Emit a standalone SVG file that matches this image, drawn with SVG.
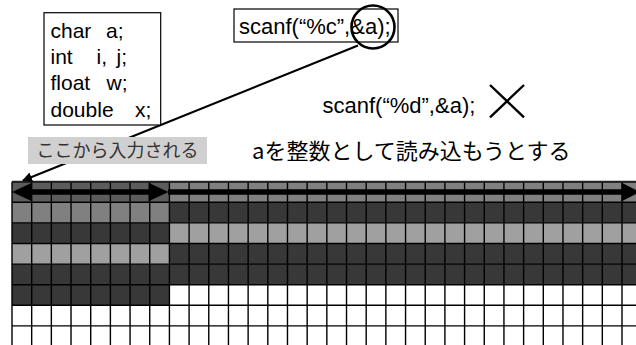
<svg xmlns="http://www.w3.org/2000/svg" width="636" height="345" viewBox="0 0 636 345">
<defs>
<style>
.t{font-family:"Liberation Sans",Arial,"Noto Sans CJK JP",sans-serif;fill:#000;}
.j{font-family:"Noto Sans CJK JP","Liberation Sans",sans-serif;}
.box{fill:#fff;stroke:#000;stroke-width:1.2;}
.dk{fill:#383838;}
.md{fill:#808080;}
.lt{fill:#a0a0a0;}
.tp{fill:#5c5c5c;}
.gl{stroke:#000;stroke-width:1.4;}
</style>
<marker id="ah" viewBox="0 0 10 10" refX="9" refY="5" markerWidth="5" markerHeight="5" orient="auto" markerUnits="strokeWidth">
<path d="M0,0 L10,5 L0,10 z" fill="#000"/>
</marker>
</defs>
<rect width="636" height="345" fill="#fff"/>

<g id="memory-grid">
<rect class="tp" x="12" y="181.7" width="157.4" height="20.6"/>
<rect class="md" x="169.4" y="181.7" width="470" height="20.6"/>
<rect class="md" x="12" y="202.3" width="157.4" height="20.6"/>
<rect class="dk" x="169.4" y="202.3" width="470" height="20.6"/>
<rect class="dk" x="12" y="222.9" width="157.4" height="20.6"/>
<rect class="lt" x="169.4" y="222.9" width="470" height="20.6"/>
<rect class="lt" x="12" y="243.5" width="157.4" height="20.6"/>
<rect class="dk" x="169.4" y="243.5" width="470" height="20.6"/>
<rect class="dk" x="12" y="264.1" width="627.4" height="20.6"/>
<rect class="dk" x="12" y="284.7" width="157.4" height="20.6"/>
<g class="gl">
<path d="M12,181.7H636M12,202.3H636M12,222.9H636M12,243.5H636M12,264.1H636M12,284.7H636M12,305.3H636M12,325.9H636" fill="none"/>
<path d="M12,181.7V345M31.68,181.7V345M51.35,181.7V345M71.03,181.7V345M90.71,181.7V345M110.39,181.7V345M130.06,181.7V345M149.74,181.7V345M169.42,181.7V345M189.1,181.7V345M208.77,181.7V345M228.45,181.7V345M248.13,181.7V345M267.81,181.7V345M287.48,181.7V345M307.16,181.7V345M326.84,181.7V345M346.52,181.7V345M366.19,181.7V345M385.87,181.7V345M405.55,181.7V345M425.23,181.7V345M444.9,181.7V345M464.58,181.7V345M484.26,181.7V345M503.94,181.7V345M523.61,181.7V345M543.29,181.7V345M562.97,181.7V345M582.65,181.7V345M602.32,181.7V345M622,181.7V345" fill="none"/>
</g>
<path d="M12,181.7H636" stroke="#222" stroke-width="2"/>
</g>

<g id="range-arrows">
<path d="M30,192H151" stroke="#000" stroke-width="5.5"/>
<polygon points="12,192 32,182.7 32,201.3" fill="#000"/>
<polygon points="168.5,192 148.5,182.7 148.5,201.3" fill="#000"/>
<path d="M168,192H624" stroke="#000" stroke-width="5.5"/>
<polygon points="640,192 621.7,182.7 621.7,201.3" fill="#000"/>
</g>

<g id="connectors">
<line x1="358" y1="45.5" x2="23" y2="180.5" stroke="#000" stroke-width="2" marker-end="url(#ah)"/>
</g>

<g id="declarations">
<rect class="box" x="44" y="12.7" width="116.7" height="112.3"/>
<text class="t" font-size="21" xml:space="preserve"><tspan x="50.5" y="37.5">char</tspan><tspan x="106" y="37.5">a;</tspan><tspan x="50.5" y="64">int</tspan><tspan x="96.5" y="64">i,</tspan><tspan x="116.5" y="64">j;</tspan><tspan x="50.5" y="90.3">float</tspan><tspan x="106.5" y="90.3">w;</tspan><tspan x="50.5" y="116.5">double</tspan><tspan x="135" y="116.5">x;</tspan></text>
</g>

<g id="scanf-c">
<rect class="box" x="234" y="9" width="164" height="33"/>
<text class="t" x="239" y="33.5" font-size="22">scanf(“%c”,&amp;a);</text>
<circle cx="373" cy="27" r="21.5" fill="none" stroke="#000" stroke-width="2.6"/>
</g>

<g id="start-label">
<rect x="28" y="137" width="179" height="27" fill="#d0d0d0"/>
<text class="j" x="36.5" y="157" font-size="18" fill="#333">ここから入力される</text>
</g>

<g id="scanf-d">
<text class="t" x="322.5" y="113" font-size="22">scanf(“%d”,&amp;a);</text>
<path d="M490,85L524,117.3M524,85L490,117.3" stroke="#000" stroke-width="2.4" fill="none"/>
</g>

<g id="note">
<text class="j" x="252" y="159" font-size="22" fill="#000">aを整数として読み込もうとする</text>
</g>
</svg>
